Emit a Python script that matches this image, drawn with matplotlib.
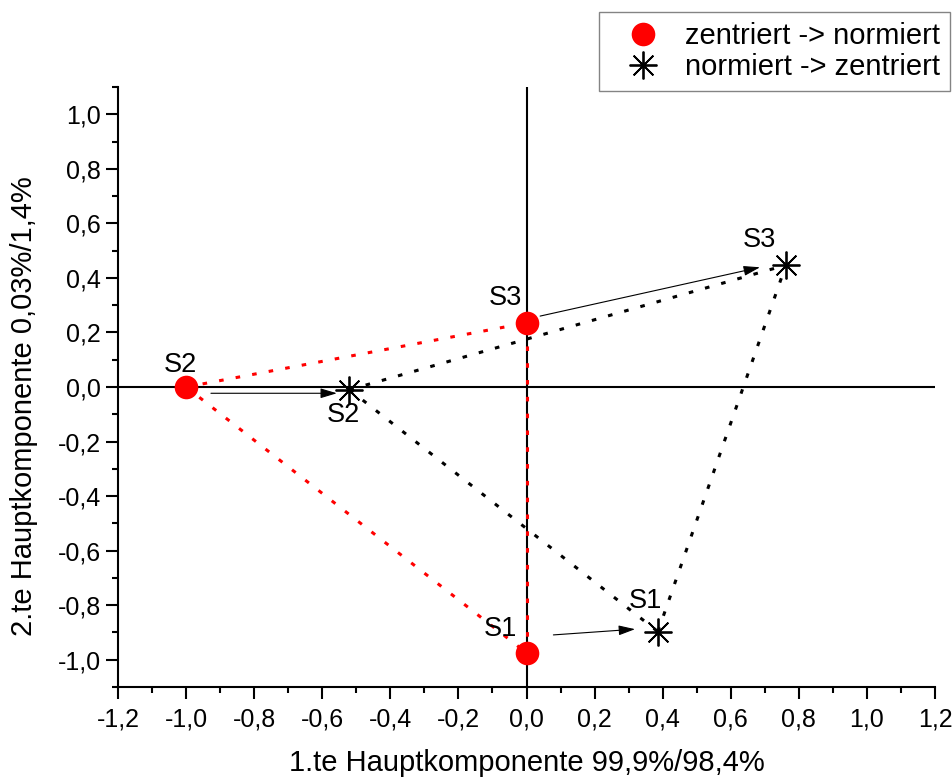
import matplotlib
matplotlib.use("Agg")
import matplotlib.pyplot as plt
from matplotlib.ticker import MultipleLocator, FuncFormatter

plt.rcParams['font.family'] = ['Liberation Sans', 'DejaVu Sans']

# Sample scores: centred then normalised (circles) vs normalised then centred (stars)
samples = ["S1", "S2", "S3"]
zn_x = [0.0, -1.0, 0.0]
zn_y = [-0.975, 0.0, 0.235]
nz_x = [0.386, -0.52, 0.762]
nz_y = [-0.897, -0.01, 0.447]

# Arrow start/end points (from circle towards star)
arrow_start_x = [0.079, -0.927, 0.040]
arrow_start_y = [-0.909, -0.023, 0.260]
arrow_end_x = [0.319, -0.557, 0.686]
arrow_end_y = [-0.888, -0.023, 0.439]

legend_labels = ["zentriert -> normiert", "normiert -> zentriert"]
xlabel = "1.te Hauptkomponente 99,9%/98,4%"
ylabel = "2.te Hauptkomponente 0,03%/1,4%"

fig = plt.figure(figsize=(9.52, 7.78), dpi=100)
ax = fig.add_axes([118/952, 1-687/778, (935-118)/952, 600/778])

ax.set_xlim(-1.2, 1.2)
ax.set_ylim(-1.1, 1.1)

# zero lines
ax.axhline(0, color="black", lw=1.5, zorder=1)
ax.axvline(0, color="black", lw=1.5, zorder=1)

dot_style = (0, (1.5, 4))
pairs = [(1, 2), (1, 0), (0, 2)]
for a, b in pairs:
    ax.plot([zn_x[a], zn_x[b]], [zn_y[a], zn_y[b]], color="red", lw=2.2,
            ls=dot_style, zorder=2)
    ax.plot([nz_x[a], nz_x[b]], [nz_y[a], nz_y[b]], color="black", lw=2.2,
            ls=dot_style, zorder=2)

h1, = ax.plot(zn_x, zn_y, ls="none", marker="o", ms=17, color="red",
              markeredgewidth=0, zorder=4)
h2, = ax.plot(nz_x, nz_y, ls="none", marker=(8, 2, 0), ms=20, color="black",
              markeredgewidth=1.3, zorder=4)

for sx, sy, ex, ey in zip(arrow_start_x, arrow_start_y, arrow_end_x, arrow_end_y):
    ax.annotate("", xy=(ex, ey), xytext=(sx, sy),
                arrowprops=dict(arrowstyle="-|>,head_length=1.0,head_width=0.3",
                                color="black", lw=0.8, shrinkA=0, shrinkB=0),
                zorder=3)

# point labels
zn_off = [(-0.078, 0.086), (-0.018, 0.079), (-0.063, 0.091)]
nz_off = [(-0.038, 0.111), (-0.019, -0.091), (-0.079, 0.093)]
for i, s in enumerate(samples):
    ax.text(zn_x[i] + zn_off[i][0], zn_y[i] + zn_off[i][1], s, fontsize=19.5,
            ha="center", va="center", zorder=5)
    ax.text(nz_x[i] + nz_off[i][0], nz_y[i] + nz_off[i][1], s, fontsize=19.5,
            ha="center", va="center", zorder=5)

# axes styling
for side in ("top", "right"):
    ax.spines[side].set_visible(False)
for side in ("left", "bottom"):
    ax.spines[side].set_linewidth(1.5)

ax.xaxis.set_major_locator(MultipleLocator(0.2))
ax.xaxis.set_minor_locator(MultipleLocator(0.1))
ax.yaxis.set_major_locator(MultipleLocator(0.2))
ax.yaxis.set_minor_locator(MultipleLocator(0.1))
fmt = FuncFormatter(lambda v, p: ("%.1f" % v).replace(".", ",").replace("-0,0", "0,0"))
ax.xaxis.set_major_formatter(fmt)
ax.yaxis.set_major_formatter(fmt)
ax.tick_params(which="major", direction="out", length=8.5, width=1.5,
               labelsize=18)
ax.tick_params(axis="y", which="major", pad=4)
ax.tick_params(axis="x", which="major", pad=6)
ax.tick_params(which="minor", direction="out", length=4, width=1.5)

ax.set_xlabel(xlabel, fontsize=21)
ax.set_ylabel(ylabel, fontsize=21)
ax.xaxis.set_label_coords(0.5, -0.103)
ax.yaxis.set_label_coords(-0.098, 0.468)

leg = fig.legend([h1, h2], legend_labels, loc="upper right",
                 bbox_to_anchor=(950/952, 1-12/778), fontsize=21,
                 frameon=True, fancybox=False, edgecolor="#666666",
                 borderpad=0.35, labelspacing=0.1, handletextpad=0.3,
                 borderaxespad=0, handlelength=2.3)
leg.get_frame().set_linewidth(1.0)
h_lines = leg.legend_handles
h_lines[0].set_markersize(17)
h_lines[1].set_markersize(20)

fig.savefig("out.png", dpi=100)
